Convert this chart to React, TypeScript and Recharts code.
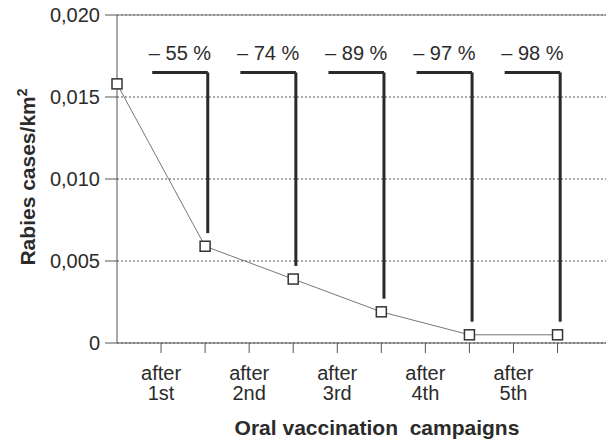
import React from "react";
import {
  LineChart,
  Line,
  XAxis,
  YAxis,
  CartesianGrid,
  ReferenceLine,
  ReferenceDot,
  Label,
} from "recharts";

const campaigns = [0, 1, 2, 3, 4, 5];
const cases = [0.0158, 0.0059, 0.0039, 0.0019, 0.0005, 0.0005];
const reductions = ["– 55 %", "– 74 %", "– 89 %", "– 97 %", "– 98 %"];
const tickLabels = [
  ["after", "1st"],
  ["after", "2nd"],
  ["after", "3rd"],
  ["after", "4th"],
  ["after", "5th"],
];
const yTicks = [0, 0.005, 0.01, 0.015, 0.02];

const data = campaigns.map((c, i) => ({ x: c, y: cases[i] }));

const FONT = "'Liberation Sans', Arial, Helvetica, sans-serif";
const TEXT = "#2b2b2b";

// bracket geometry (axis units)
const BRACKET_TOP = 0.0165;
const LABEL_Y = 0.0177;

const SquareDot = (props: any) => {
  const { cx, cy } = props;
  if (cx == null || cy == null) return null;
  return (
    <rect
      x={cx - 5}
      y={cy - 5}
      width={10}
      height={10}
      fill="#fff"
      stroke="#333"
      strokeWidth={1.5}
    />
  );
};

const XTick = (props: any) => {
  const { x, y, payload } = props;
  const v = payload.value;
  if (Math.abs(v - Math.round(v)) < 0.01) return <g />;
  const lines = tickLabels[Math.floor(v)];
  return (
    <text
      x={x}
      y={y + 25}
      textAnchor="middle"
      fontFamily={FONT}
      fontSize={20}
      fill={TEXT}
    >
      <tspan x={x}>{lines[0]}</tspan>
      <tspan x={x} dy={20}>
        {lines[1]}
      </tspan>
    </text>
  );
};

export default function App() {
  const xTicks = [0.5, 1, 1.5, 2, 2.5, 3, 3.5, 4, 4.5, 5];
  return (
    <div style={{ position: "absolute", left: 0, top: 0, background: "#fff" }}>
      <LineChart
        width={607}
        height={442}
        data={data}
        margin={{ top: 15, right: 1, bottom: 69, left: 57 }}
      >
        <CartesianGrid
          vertical={false}
          stroke="#555"
          strokeDasharray="2 2"
        />
        <ReferenceLine y={0.02} stroke="#777" strokeWidth={1} />
        <XAxis
          type="number"
          dataKey="x"
          domain={[0, 5.55]}
          ticks={xTicks}
          interval={0}
          tick={<XTick />}
          tickSize={10}
          tickMargin={2}
          stroke="#555"
          allowDecimals
        >
          <Label
            content={() => (
              <text
                x={377}
                y={435}
                textAnchor="middle"
                fontFamily={FONT}
                fontWeight="bold"
                fontSize={21}
                fill={TEXT}
                xmlSpace="preserve"
                style={{ whiteSpace: "pre" }}
              >
                Oral vaccination  campaigns
              </text>
            )}
          />
        </XAxis>
        <YAxis
          type="number"
          domain={[0, 0.02]}
          ticks={yTicks}
          width={60}
          tickSize={12}
          tickMargin={5}
          stroke="#555"
          tick={{ fontFamily: FONT, fontSize: 20, fill: TEXT }}
          tickFormatter={(v: number) =>
            v === 0 ? "0" : v.toFixed(3).replace(".", ",")
          }
        >
          <Label
            content={() => (
              <text
                x={35}
                y={177}
                transform="rotate(-90, 35, 177)"
                textAnchor="middle"
                fontFamily={FONT}
                fontWeight="bold"
                fontSize={21}
                fill={TEXT}
              >
                Rabies cases/km
                <tspan dy={-8} fontSize={14}>
                  2
                </tspan>
              </text>
            )}
          />
        </YAxis>
        {reductions.map((r, i) => {
          const end = campaigns[i + 1] + 0.03;
          const start = campaigns[i + 1] - 0.6;
          const bottom = cases[i + 1] + 0.0008;
          return (
            <React.Fragment key={r}>
              <ReferenceLine
                segment={[
                  { x: start, y: BRACKET_TOP },
                  { x: end, y: BRACKET_TOP },
                ]}
                stroke="#2a2a2a"
                strokeWidth={3}
              />
              <ReferenceLine
                segment={[
                  { x: end, y: BRACKET_TOP },
                  { x: end, y: bottom },
                ]}
                stroke="#2a2a2a"
                strokeWidth={3}
              />
              <ReferenceDot
                x={(start + end) / 2}
                y={LABEL_Y}
                r={1}
                fill="none"
                stroke="none"
                label={{
                  value: r,
                  position: "center",
                  fontFamily: FONT,
                  fontSize: 20,
                  fill: TEXT,
                }}
              />
            </React.Fragment>
          );
        })}
        <Line
          type="linear"
          dataKey="y"
          stroke="#777"
          strokeWidth={1}
          dot={<SquareDot />}
          isAnimationActive={false}
        />
      </LineChart>
    </div>
  );
}
